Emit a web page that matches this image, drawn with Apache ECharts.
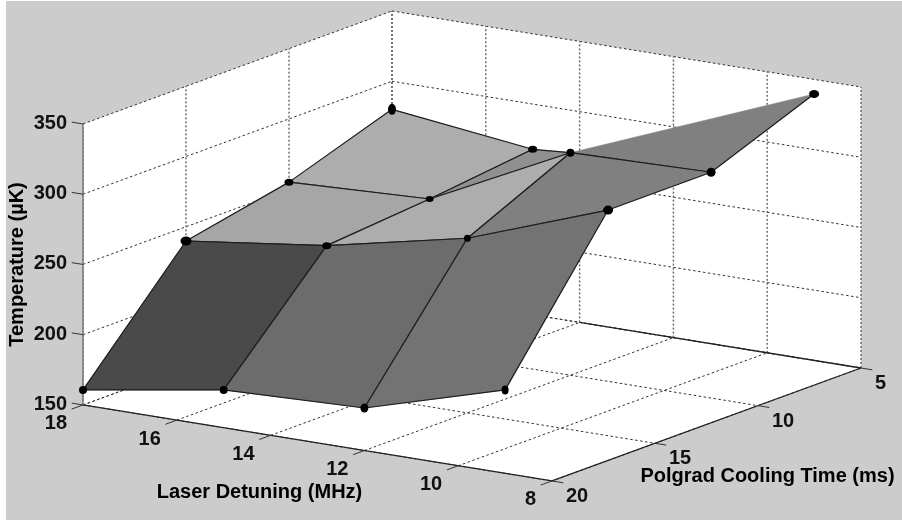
<!DOCTYPE html>
<html>
<head>
<meta charset="utf-8">
<style>html,body{margin:0;padding:0;background:#fff}#c{width:902px;height:521px}</style>
<script src="https://cdn.jsdelivr.net/npm/echarts@6/dist/echarts.min.js"></script>
</head>
<body>
<div id="c"></div>
<script>
// ---- data ----
var detuning = [18, 15, 12, 9];            // MHz
var coolingTime = [20, 15, 10, 5];         // ms
var temperature = [                        // µK; rows follow coolingTime, columns follow detuning
  [160.7, 176.9, 180.3, 209.4],
  [239.9, 252.8, 274.3, 310.6],
  [255.0, 259.2, 308.4, 310.7],
  [280.0, 267.8, null, 339.6]
];
var detuningTicks = [18, 16, 14, 12, 10, 8];
var timeTicks = [20, 15, 10, 5];
var tempTicks = [150, 200, 250, 300, 350];
var detuningTitle = 'Laser Detuning (MHz)';
var timeTitle = 'Polgrad Cooling Time (ms)';
var tempTitle = 'Temperature (\u00b5K)';

// ---- styles ----
var cellGray = [
  ['#4a4a4a', '#6c6c6c', '#737373'],
  ['#a6a6a6', '#adadad', '#808080'],
  ['#adadad', '#909090', '#808080']
];
var dotSizes = [
  [[8, 8], [8, 8], [8, 9], [7, 9]],
  [[11, 9], [9, 7], [7, 7], [10, 9]],
  [[9, 7], [8, 6], [8, 8], [9, 9]],
  [[8, 11], [9, 7], null, [10, 8]]
];
var FONT = 'bold 20px "Liberation Sans", Arial, sans-serif';

// ---- orthographic view of the 3D box, onto the hidden 2D axes ----
var view = { ox: 392, oy: 292, dx: 46.9, dy: 7.6, tx: -20.6, ty: 7.53, zy: 1.405 };
var D0 = 18, D1 = 8, T0 = 5, T1 = 20, Z0 = 150, Z1 = 350;
function project(d, t, z) {
  return [
    view.ox + (D0 - d) * view.dx + (t - T0) * view.tx,
    view.oy + (D0 - d) * view.dy + (t - T0) * view.ty - (z - Z0) * view.zy
  ];
}

// ---- geometry built from the data ----
var walls = [
  [[D0, T1, Z0], [D0, T0, Z0], [D0, T0, Z1], [D0, T1, Z1]],
  [[D0, T0, Z0], [D1, T0, Z0], [D1, T0, Z1], [D0, T0, Z1]],
  [[D0, T1, Z0], [D0, T0, Z0], [D1, T0, Z0], [D1, T1, Z0]]
];
var horizGrid = [];
var vertGrid = [];
tempTicks.forEach(function (z) {
  horizGrid.push([[D0, T1, z], [D0, T0, z]]);
  horizGrid.push([[D0, T0, z], [D1, T0, z]]);
});
timeTicks.forEach(function (t) {
  vertGrid.push([[D0, t, Z0], [D0, t, Z1]]);
  horizGrid.push([[D0, t, Z0], [D1, t, Z0]]);
});
detuningTicks.forEach(function (d) {
  vertGrid.push([[d, T0, Z0], [d, T0, Z1]]);
  horizGrid.push([[d, T1, Z0], [d, T0, Z0]]);
});
var boxLines = [
  [[D0, T1, Z0], [D1, T1, Z0]],
  [[D1, T1, Z0], [D1, T0, Z0]],
  [[D1, T0, Z0], [D0 - 4, T0, Z0]]
];
var tickMarks = [];
tempTicks.forEach(function (z) { tickMarks.push([[D0, T1, z], [D0 + 0.24, T1, z]]); });
detuningTicks.forEach(function (d) { tickMarks.push([[d, T1, Z0], [d, T1 + 0.55, Z0]]); });
timeTicks.forEach(function (t) { tickMarks.push([[D1, t, Z0], [D1 - 0.24, t, Z0]]); });

var labels = [];
tempTicks.forEach(function (z) {
  var p = project(D0, T1, z);
  labels.push({ text: String(z), x: p[0] - 16, y: p[1] - 0.5, align: 'right' });
});
detuningTicks.forEach(function (d) {
  var p = project(d, T1, Z0);
  labels.push({ text: String(d), x: p[0] - 16, y: p[1] + 19, align: 'right' });
});
timeTicks.forEach(function (t) {
  var p = project(D1, t, Z0);
  labels.push({ text: String(t), x: p[0] + 14, y: p[1] + 15.5, align: 'left' });
});

var cells = [];
for (var r = temperature.length - 2; r >= 0; r--) {
  for (var c = 0; c < detuning.length - 1; c++) {
    cells.push({ r: r, c: c });
  }
}
function vertex(r, c) {
  var z = temperature[r][c];
  return z === null ? null : project(detuning[c], coolingTime[r], z);
}
var dots = [];
var dotSize = [];
temperature.forEach(function (row, r) {
  row.forEach(function (z, c) {
    if (z !== null) {
      dots.push(project(detuning[c], coolingTime[r], z));
      dotSize.push(dotSizes[r][c]);
    }
  });
});

function toPx(api, p) { return api.coord(p); }

function lineSeries(list, z, style) {
  return {
    type: 'custom', coordinateSystem: 'cartesian2d', silent: true, z: z, clip: false,
    data: list.map(function (l, i) { return [i]; }),
    encode: { x: -1, y: -1 },
    renderItem: function (params, api) {
      var l = list[params.dataIndex];
      var a = toPx(api, project.apply(null, l[0]));
      var b = toPx(api, project.apply(null, l[1]));
      return { type: 'line', shape: { x1: a[0], y1: a[1], x2: b[0], y2: b[1] }, style: style };
    }
  };
}

var option = {
  animation: false,
  backgroundColor: '#ffffff',
  grid: { left: 6, right: 0, top: 1, bottom: 1, show: true, backgroundColor: '#cccccc', borderWidth: 0 },
  xAxis: { type: 'value', min: 6, max: 902, show: false },
  yAxis: { type: 'value', min: 1, max: 520, inverse: true, show: false },
  series: [
    {
      type: 'custom', coordinateSystem: 'cartesian2d', silent: true, z: 1,
      data: walls.map(function (w, i) { return [i]; }),
      encode: { x: -1, y: -1 },
      renderItem: function (params, api) {
        var pts = walls[params.dataIndex].map(function (v) { return toPx(api, project.apply(null, v)); });
        return { type: 'polygon', shape: { points: pts }, style: { fill: '#ffffff' } };
      }
    },
    lineSeries(horizGrid, 2, { stroke: '#333333', lineWidth: 1, lineDash: [2.5, 2.5] }),
    lineSeries(vertGrid, 2, { stroke: '#666666', lineWidth: 1.4, lineDash: [2, 2] }),
    lineSeries(boxLines, 3, { stroke: '#222222', lineWidth: 1.3 }),
    lineSeries([[[D0, T1, Z0], [D0, T1, Z1]]], 3, { stroke: '#808080', lineWidth: 1.6 }),
    lineSeries(tickMarks, 3, { stroke: '#333333', lineWidth: 1 }),
    {
      type: 'custom', coordinateSystem: 'cartesian2d', silent: true, z: 4,
      data: cells.map(function (c, i) { return [i]; }),
      encode: { x: -1, y: -1 },
      renderItem: function (params, api) {
        var cell = cells[params.dataIndex];
        var A = vertex(cell.r, cell.c), B = vertex(cell.r, cell.c + 1),
            C = vertex(cell.r + 1, cell.c + 1), E = vertex(cell.r + 1, cell.c);
        var pts = [A, B, C, E].filter(Boolean).map(function (p) { return toPx(api, p); });
        var children = [{
          type: 'polygon', shape: { points: pts },
          style: { fill: cellGray[cell.r][cell.c], stroke: cellGray[cell.r][cell.c], lineWidth: 0.5 }
        }];
        function edge(P, Q) {
          var a = toPx(api, P), b = toPx(api, Q);
          children.push({
            type: 'line', shape: { x1: a[0], y1: a[1], x2: b[0], y2: b[1] },
            style: { stroke: '#1c1c1c', lineWidth: 1.2 }
          });
        }
        edge(A, B);
        if (C) { edge(B, C); } else { edge(B, E); }
        if (C && E) { edge(C, E); }
        if (E) { edge(E, A); }
        return { type: 'group', children: children };
      }
    },
    {
      type: 'scatter', z: 5, silent: true,
      data: dots,
      symbol: 'circle',
      symbolSize: function (v, p) { return dotSize[p.dataIndex]; },
      itemStyle: { color: '#000000', opacity: 1 }
    },
    {
      type: 'custom', coordinateSystem: 'cartesian2d', silent: true, z: 6,
      data: labels.map(function (l, i) { return [i]; }),
      encode: { x: -1, y: -1 },
      renderItem: function (params, api) {
        var l = labels[params.dataIndex];
        return {
          type: 'text', x: l.x, y: l.y,
          style: { text: l.text, font: FONT, fill: '#111111', align: l.align, verticalAlign: 'middle' }
        };
      }
    }
  ],
  graphic: [
    { type: 'text', x: 259.5, y: 492.5, z: 10, silent: true, style: { text: detuningTitle, font: FONT, fill: '#000', align: 'center', verticalAlign: 'middle' } },
    { type: 'text', x: 767.5, y: 476, z: 10, silent: true, style: { text: timeTitle, font: FONT, fill: '#000', align: 'center', verticalAlign: 'middle' } },
    { type: 'text', x: 17.5, y: 264.5, rotation: Math.PI / 2, z: 10, silent: true, style: { text: tempTitle, font: FONT, fill: '#000', align: 'center', verticalAlign: 'middle' } }
  ]
};
var chart = echarts.init(document.getElementById('c'), null, { renderer: 'canvas' });
chart.setOption(option);
</script>
</body>
</html>
